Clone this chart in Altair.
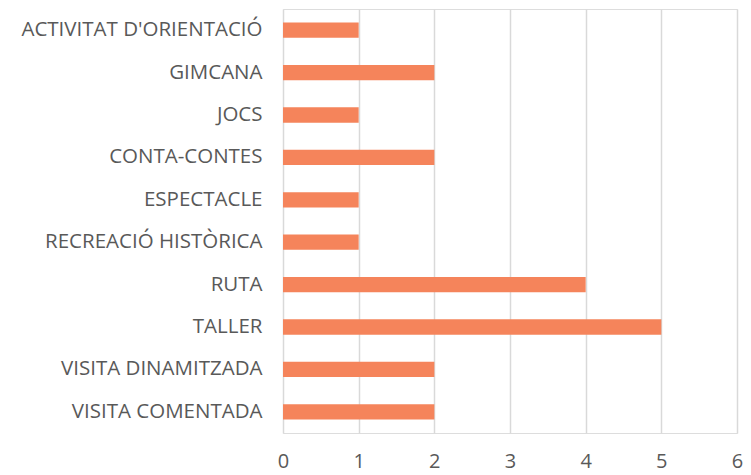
import altair as alt
import pandas as pd

categories = ["ACTIVITAT D'ORIENTACIÓ", "GIMCANA", "JOCS", "CONTA-CONTES", "ESPECTACLE",
              "RECREACIÓ HISTÒRICA", "RUTA", "TALLER", "VISITA DINAMITZADA", "VISITA COMENTADA"]
values = [1, 2, 1, 2, 1, 1, 4, 5, 2, 2]

df = pd.DataFrame({"cat": categories, "val": values})

chart = alt.Chart(df).mark_bar(color="#F5845B").encode(
    x=alt.X("val:Q", scale=alt.Scale(domain=[0, 6], nice=False),
            axis=alt.Axis(title=None, values=[0, 1, 2, 3, 4, 5, 6], format="d",
                          grid=True, gridColor="#D9D9D9", gridWidth=1.5,
                          domain=False, ticks=False, labelPadding=18, labelFlush=False,
                          labelFontSize=20, labelColor="#595959", labelFont="Open Sans")),
    y=alt.Y("cat:N", sort=categories,
            scale=alt.Scale(paddingInner=0.64, paddingOuter=0.32),
            axis=alt.Axis(title=None, domain=False, ticks=False, grid=False,
                          labelPadding=21, labelFontSize=20.5, labelColor="#595959",
                          labelFont="Open Sans", labelLimit=400)),
).properties(
    width=454, height=424,
    autosize=alt.AutoSizeParams(type="none"),
    padding={"left": 275, "top": 1, "right": 6, "bottom": 42},
).configure_view(stroke=None).configure(background="white")

chart.save("out.html", embed_options={"renderer": "svg", "actions": False})
